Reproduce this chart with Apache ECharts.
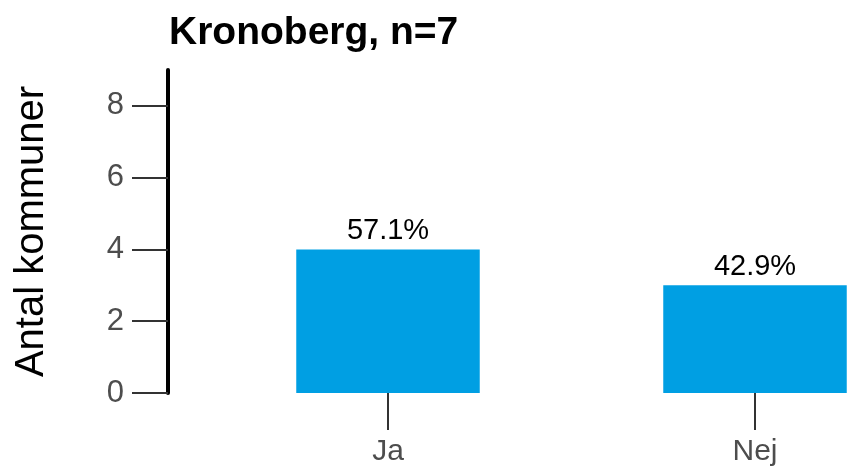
<!DOCTYPE html>
<html>
<head>
<meta charset="utf-8">
<script src="https://cdn.jsdelivr.net/npm/echarts@6/dist/echarts.min.js"></script>
<style>
  html, body { margin: 0; padding: 0; background: #fff; }
  #chart { width: 856px; height: 468px; }
</style>
</head>
<body>
<div id="chart"></div>
<script>
// Data
const categories = ["Ja", "Nej"];
const counts = [4, 3];
const yTicks = [0, 2, 4, 6, 8];
const titleText = "Kronoberg, n=7";
const yName = "Antal kommuner";

const total = counts.reduce((a, b) => a + b, 0);
const font = "Liberation Sans, Arial, sans-serif";

const chart = echarts.init(document.getElementById("chart"));

const option = {
  animation: false,
  title: {
    text: titleText,
    left: 164,
    top: 9,
    textStyle: { fontFamily: font, fontSize: 39, fontWeight: "bold", color: "#000" },
  },
  grid: {
    left: 204.5,
    right: -82.5,
    top: 70,
    bottom: 75,
    containLabel: false,
    outerBoundsMode: "none",
  },
  xAxis: {
    type: "category",
    data: categories,
    axisLine: { show: false },
    axisTick: { show: true, alignWithLabel: true, length: 37, lineStyle: { color: "#333", width: 2 } },
    axisLabel: { margin: 44, fontFamily: font, fontSize: 30, color: "#4d4d4d" },
  },
  yAxis: {
    type: "value",
    min: 0,
    max: 9,
    offset: 36.5,
    name: yName,
    nameLocation: "middle",
    nameGap: 116,
    nameTextStyle: { fontFamily: font, fontSize: 40, color: "#000" },
    axisLine: { show: true, lineStyle: { color: "#000", width: 4 } },
    axisTick: { show: true, length: 36, customValues: yTicks, lineStyle: { color: "#333", width: 2 } },
    axisLabel: { margin: 44, customValues: yTicks, fontFamily: font, fontSize: 31, color: "#4d4d4d" },
    splitLine: { show: false },
  },
  series: [
    {
      type: "bar",
      data: counts,
      barWidth: "50%",
      itemStyle: { color: "#009fe3" },
      label: {
        show: true,
        position: "top",
        distance: 4,
        fontFamily: font,
        fontSize: 29,
        color: "#000",
        formatter: (p) => ((p.value / total) * 100).toFixed(1) + "%",
      },
    },
  ],
};

chart.setOption(option);
</script>
</body>
</html>
